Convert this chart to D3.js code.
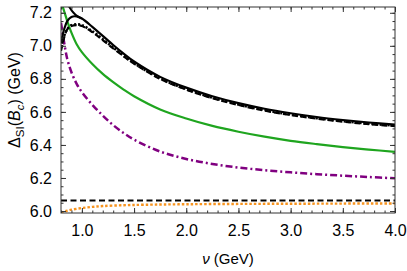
<!DOCTYPE html>
<html>
<head>
<meta charset="utf-8">
<script src="https://cdn.jsdelivr.net/npm/d3@7"></script>
<style>
  body { margin: 0; background: #fff; }
  svg { font-family: "Liberation Sans", Arial, sans-serif; }
</style>
</head>
<body>
<div id="chart"></div>
<script>
// nu grid (GeV) and curve values
const nuMain = [0.80, 0.83, 0.86, 0.90, 0.95, 1.00, 1.10, 1.20, 1.30, 1.40, 1.50, 1.75, 2.00, 2.25, 2.50, 2.75, 3.00, 3.25, 3.50, 3.75, 4.00];
const blackSolid = [7.02, 7.10, 7.15, 7.175, 7.178, 7.165, 7.115, 7.06, 7.005, 6.953, 6.905, 6.812, 6.747, 6.695, 6.653, 6.619, 6.592, 6.569, 6.551, 6.536, 6.523];
const blackDashed = [6.97, 7.05, 7.10, 7.12, 7.125, 7.12, 7.083, 7.035, 6.985, 6.937, 6.892, 6.800, 6.735, 6.683, 6.642, 6.608, 6.581, 6.559, 6.541, 6.526, 6.514];
const blackDotted = [6.99, 7.06, 7.10, 7.125, 7.13, 7.125, 7.088, 7.04, 6.99, 6.941, 6.895, 6.803, 6.738, 6.686, 6.645, 6.611, 6.584, 6.562, 6.544, 6.529, 6.517];
const green = [7.27, 7.21, 7.15, 7.08, 7.01, 6.962, 6.89, 6.83, 6.78, 6.735, 6.695, 6.615, 6.56, 6.515, 6.48, 6.45, 6.425, 6.405, 6.387, 6.372, 6.358];
const purple = [7.14, 7.02, 6.92, 6.84, 6.77, 6.72, 6.643, 6.578, 6.52, 6.472, 6.432, 6.36, 6.315, 6.285, 6.263, 6.247, 6.234, 6.223, 6.214, 6.206, 6.198];

// upper solid branch coming down from above the frame
const nuUpper = [0.80, 0.84, 0.88, 0.92, 0.96, 1.00];
const blackUpper = [7.36, 7.29, 7.235, 7.20, 7.178, 7.165];

// flat dashed line and orange dotted curve near the bottom
const nuFlat = [0.80, 4.00];
const flatDashed = [6.063, 6.063];
const nuOrange = [0.80, 0.85, 0.90, 1.00, 1.10, 1.20, 1.40, 1.60, 2.00, 2.50, 3.00, 3.50, 4.00];
const orange = [5.99, 6.00, 6.008, 6.018, 6.025, 6.03, 6.035, 6.038, 6.041, 6.043, 6.044, 6.045, 6.046];

const xTicks = [1.0, 1.5, 2.0, 2.5, 3.0, 3.5, 4.0];
const yTicks = [6.0, 6.2, 6.4, 6.6, 6.8, 7.0, 7.2];

const width = 407, height = 271;
const margin = { top: 7, right: 12, bottom: 58, left: 61 };
const innerW = width - margin.left - margin.right;
const innerH = height - margin.top - margin.bottom;

const svg = d3.select('#chart')
    .append('svg')
    .attr('width', width)
    .attr('height', height);

const x = d3.scaleLinear().domain([0.8, 4.0]).range([0, innerW]);
const y = d3.scaleLinear().domain([5.988, 7.235]).range([innerH, 0]);

svg.append('defs').append('clipPath')
    .attr('id', 'clip')
    .append('rect')
    .attr('width', innerW)
    .attr('height', innerH);

const g = svg.append('g')
    .attr('transform', `translate(${margin.left},${margin.top})`);

// Curves
const series = [
    { nu: nuOrange, v: orange, color: '#f7931e', w: 2.4, dash: '2.5,2' },
    { nu: nuFlat, v: flatDashed, color: '#000', w: 2, dash: '6,3.5' },
    { nu: nuMain, v: purple, color: '#800080', w: 2.5, dash: '7,3,2,3' },
    { nu: nuMain, v: green, color: '#1fa51f', w: 2.2, dash: null },
    { nu: nuMain, v: blackDotted, color: '#000', w: 2.6, dash: '2,2' },
    { nu: nuMain, v: blackDashed, color: '#000', w: 2.2, dash: '6,3' },
    { nu: nuUpper, v: blackUpper, color: '#000', w: 2, dash: null },
    { nu: nuMain, v: blackSolid, color: '#000', w: 2.2, dash: null }
];

const line = d3.line()
    .x(d => x(d[0]))
    .y(d => y(d[1]))
    .curve(d3.curveCatmullRom.alpha(0.5));

g.append('g')
    .attr('clip-path', 'url(#clip)')
    .selectAll('path')
    .data(series)
    .join('path')
    .attr('d', s => line(s.nu.map((n, i) => [n, s.v[i]])))
    .attr('fill', 'none')
    .attr('stroke', s => s.color)
    .attr('stroke-width', s => s.w)
    .attr('stroke-dasharray', s => s.dash);

// Frame with inward ticks on all sides
const xMinor = d3.range(8, 41).map(d => d / 10);
const yMinor = d3.range(120, 145).map(d => d / 20);
const frameColor = '#333';

function addAxis(axisGen, transform) {
    const a = g.append('g').attr('transform', transform).call(axisGen);
    a.select('.domain').remove();
    a.selectAll('line').attr('stroke', frameColor);
    return a;
}

// minor ticks
addAxis(d3.axisBottom(x).tickValues(xMinor).tickSize(-2.5).tickFormat(''), `translate(0,${innerH})`);
addAxis(d3.axisTop(x).tickValues(xMinor).tickSize(-2.5).tickFormat(''), 'translate(0,0)');
addAxis(d3.axisLeft(y).tickValues(yMinor).tickSize(-2.5).tickFormat(''), 'translate(0,0)');
addAxis(d3.axisRight(y).tickValues(yMinor).tickSize(-2.5).tickFormat(''), `translate(${innerW},0)`);

// major ticks
addAxis(d3.axisBottom(x).tickValues(xTicks).tickSize(-5).tickPadding(12).tickFormat(d3.format('.1f')), `translate(0,${innerH})`);
addAxis(d3.axisTop(x).tickValues(xTicks).tickSize(-5).tickFormat(''), 'translate(0,0)');
addAxis(d3.axisLeft(y).tickValues(yTicks).tickSize(-5).tickPadding(9).tickFormat(d3.format('.1f')), 'translate(0,0)');
addAxis(d3.axisRight(y).tickValues(yTicks).tickSize(-5).tickFormat(''), `translate(${innerW},0)`);

g.selectAll('.tick text')
    .attr('fill', '#000')
    .style('font-size', '16px');

g.append('rect')
    .attr('width', innerW)
    .attr('height', innerH)
    .attr('fill', 'none')
    .attr('stroke', frameColor)
    .attr('stroke-width', 1);

// Axis labels
const xLabel = svg.append('text')
    .attr('x', 228)
    .attr('y', 264)
    .attr('text-anchor', 'middle')
    .style('font-size', '15px');
xLabel.append('tspan').style('font-style', 'italic').text('ν');
xLabel.append('tspan').text(' (GeV)');

const yLabel = svg.append('text')
    .attr('transform', 'translate(20,100) rotate(-90)')
    .attr('text-anchor', 'middle')
    .style('font-size', '16px');
yLabel.append('tspan').text('Δ');
yLabel.append('tspan').attr('dy', 4).style('font-size', '11.5px').text('SI');
yLabel.append('tspan').attr('dy', -4).text('(');
yLabel.append('tspan').style('font-style', 'italic').text('B');
yLabel.append('tspan').attr('dy', 4).style('font-size', '11.5px').style('font-style', 'italic').text('c');
yLabel.append('tspan').attr('dy', -4).text(') (GeV)');
</script>
</body>
</html>
